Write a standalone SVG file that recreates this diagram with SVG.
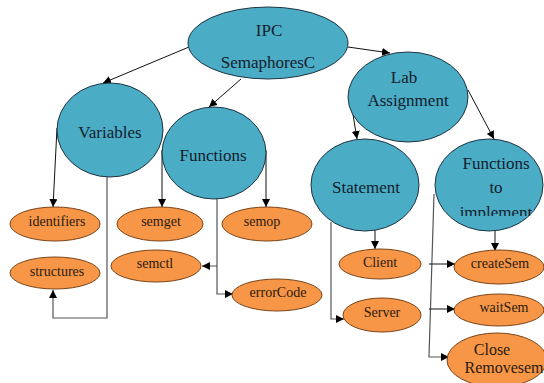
<svg xmlns="http://www.w3.org/2000/svg" width="544" height="383" viewBox="0 0 544 383">
<style>
.b{fill:#4BACC6;stroke:#1E3442;stroke-width:1}
.o{fill:#F79646;stroke:#7A4418;stroke-width:1}
text{font-family:'Liberation Serif','Times New Roman','DejaVu Serif',serif}
.tb{font-size:17px;fill:#13202c;text-anchor:middle}
.to{font-size:14px;fill:#2a1a10;text-anchor:middle}
.c{fill:none;stroke:#111;stroke-width:1}
.g{fill:none;stroke:#555;stroke-width:1.2}
</style>
<defs>
<marker id="a" viewBox="0 0 10 10" refX="10" refY="5" markerWidth="8" markerHeight="8" markerUnits="userSpaceOnUse" orient="auto"><path d="M0,0L10,5L0,10z" fill="#000"/></marker>
<clipPath id="cl"><rect x="430" y="130" width="120" height="86"/></clipPath>
</defs>
<rect width="544" height="383" fill="#fff"/>
<g id="connectors">
<line class="c" x1="189" y1="47" x2="103" y2="83" marker-end="url(#a)"/>
<line class="c" x1="241" y1="79" x2="209" y2="107" marker-end="url(#a)"/>
<line class="c" x1="348" y1="47" x2="390" y2="53" marker-end="url(#a)"/>
<line class="c" x1="349" y1="90" x2="357" y2="139" marker-end="url(#a)"/>
<line class="c" x1="468" y1="90" x2="494" y2="139" marker-end="url(#a)"/>
<line class="c" x1="57" y1="128" x2="53" y2="207" marker-end="url(#a)"/>
<polyline class="g" points="107,176 107,318 53,318 53,290" marker-end="url(#a)"/>
<line class="c" x1="162" y1="150" x2="162" y2="207" marker-end="url(#a)"/>
<line class="c" x1="266" y1="150" x2="266" y2="207" marker-end="url(#a)"/>
<polyline class="g" points="217,199 217,266 202,266" marker-end="url(#a)"/>
<polyline class="g" points="217,266 217,294 233,294" marker-end="url(#a)"/>
<line class="c" x1="375" y1="230" x2="375" y2="249" marker-end="url(#a)"/>
<polyline class="g" points="331,222 331,319 344,319" marker-end="url(#a)"/>
<line class="c" x1="495" y1="231" x2="495" y2="251" marker-end="url(#a)"/>
<polyline class="g" points="434,194 429,357 449,357" marker-end="url(#a)"/>
<line class="c" x1="429" y1="264" x2="455" y2="264" marker-end="url(#a)"/>
<line class="c" x1="429" y1="309" x2="455" y2="309" marker-end="url(#a)"/>
</g>
<g id="ipc"><ellipse class="b" cx="268" cy="43" rx="80" ry="36"/><text class="tb" x="269" y="36">IPC</text><text class="tb" x="268" y="68">SemaphoresC</text></g>
<g id="lab"><ellipse class="b" cx="408" cy="97" rx="60" ry="45"/><text class="tb" x="404" y="83">Lab</text><text class="tb" x="408" y="106">Assignment</text></g>
<g id="variables"><ellipse class="b" cx="110" cy="130" rx="53" ry="47"/><text class="tb" x="110" y="138">Variables</text></g>
<g id="functions"><ellipse class="b" cx="214" cy="153" rx="52" ry="46"/><text class="tb" x="213" y="161">Functions</text></g>
<g id="statement"><ellipse class="b" cx="365" cy="185" rx="54" ry="46"/><text class="tb" x="366" y="193">Statement</text></g>
<g id="functions-to-implement"><ellipse class="b" cx="489" cy="185" rx="54" ry="46"/><g clip-path="url(#cl)"><text class="tb" x="496" y="169">Functions</text><text class="tb" x="496" y="193">to</text><text class="tb" x="496" y="218">implement</text></g></g>
<g id="identifiers"><ellipse class="o" cx="55" cy="224" rx="45" ry="17"/><text class="to" x="57" y="226">identifiers</text></g>
<g id="semget"><ellipse class="o" cx="160" cy="224" rx="43" ry="17"/><text class="to" x="161" y="226">semget</text></g>
<g id="semop"><ellipse class="o" cx="267" cy="224" rx="45" ry="17"/><text class="to" x="262" y="226">semop</text></g>
<g id="structures"><ellipse class="o" cx="55" cy="273" rx="45" ry="16"/><text class="to" x="57" y="276">structures</text></g>
<g id="semctl"><ellipse class="o" cx="156" cy="266" rx="45" ry="16"/><text class="to" x="155" y="268">semctl</text></g>
<g id="errorcode"><ellipse class="o" cx="277" cy="295" rx="45" ry="16"/><text class="to" x="278" y="297">errorCode</text></g>
<g id="client"><ellipse class="o" cx="380" cy="264" rx="41" ry="15"/><text class="to" x="380" y="267">Client</text></g>
<g id="server"><ellipse class="o" cx="382" cy="315" rx="39" ry="17"/><text class="to" x="382" y="317">Server</text></g>
<g id="createsem"><ellipse class="o" cx="499" cy="267" rx="45" ry="17"/><text class="to" x="500" y="268">createSem</text></g>
<g id="waitsem"><ellipse class="o" cx="499" cy="310" rx="45" ry="16"/><text class="to" x="504" y="312">waitSem</text></g>
<g id="close-removesem"><ellipse class="o" cx="497" cy="360" rx="50" ry="27"/><text class="to" x="492" y="355" style="font-size:16px">Close</text><text class="to" x="504" y="373" style="font-size:16px">Removesem</text></g>
</svg>
